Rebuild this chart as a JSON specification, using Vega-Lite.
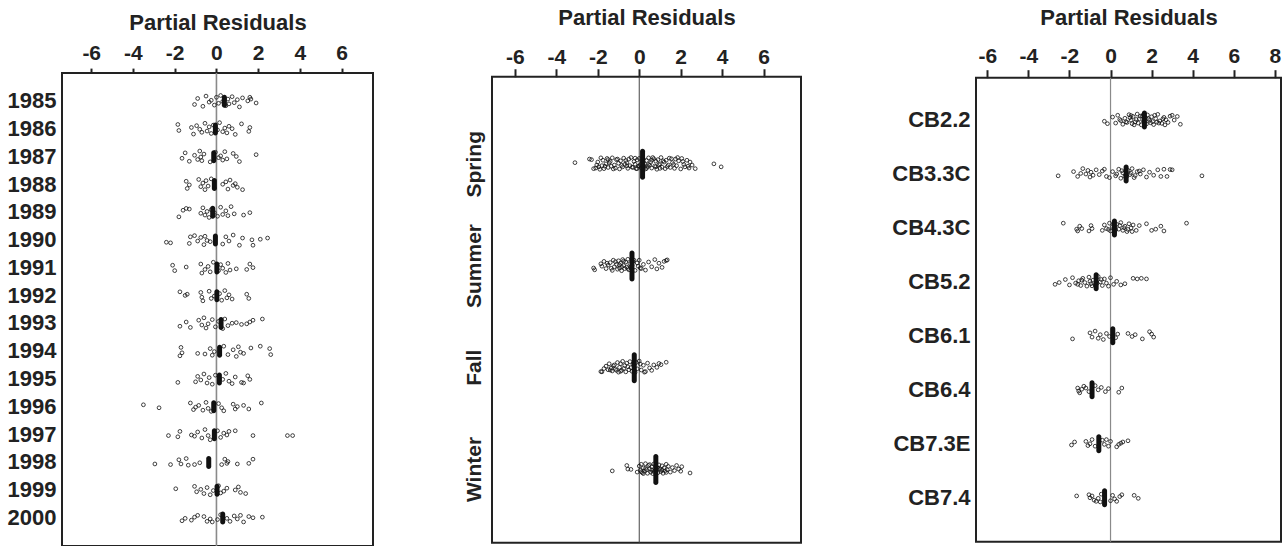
{
  "$schema": "https://vega.github.io/schema/vega-lite/v6.json",
  "padding": {"top": 5, "left": 6, "right": 2, "bottom": 0},
  "background": "white",
  "spacing": 88,
  "center": true,
  "datasets": {
    "left": [
      {"g":"1985","v":-1.05,"j":0.6},{"g":"1985","v":-0.9,"j":-0.4},{"g":"1985","v":-0.65,"j":0.9},{"g":"1985","v":-0.5,"j":-0.8},{"g":"1985","v":-0.35,"j":0.2},{"g":"1985","v":-0.25,"j":-0.1},{"g":"1985","v":-0.1,"j":0.7},{"g":"1985","v":0.0,"j":-0.6},{"g":"1985","v":0.1,"j":0.4},{"g":"1985","v":0.2,"j":-0.9},{"g":"1985","v":0.3,"j":0.1},{"g":"1985","v":0.45,"j":0.8},{"g":"1985","v":0.55,"j":-0.3},{"g":"1985","v":0.6,"j":0.5},{"g":"1985","v":0.75,"j":-0.7},{"g":"1985","v":0.85,"j":0.3},{"g":"1985","v":1.0,"j":-0.2},{"g":"1985","v":1.1,"j":1.0},{"g":"1985","v":1.25,"j":-0.5},{"g":"1985","v":1.5,"j":0.0},{"g":"1985","v":1.6,"j":-0.6},{"g":"1985","v":1.65,"j":-0.3},{"g":"1985","v":1.9,"j":0.35},
      {"g":"1986","v":-1.85,"j":-0.7},{"g":"1986","v":-1.8,"j":0.3},{"g":"1986","v":-1.2,"j":-0.2},{"g":"1986","v":-1.1,"j":0.9},{"g":"1986","v":-0.95,"j":-0.5},{"g":"1986","v":-0.8,"j":0.1},{"g":"1986","v":-0.7,"j":0.6},{"g":"1986","v":-0.55,"j":-0.9},{"g":"1986","v":-0.45,"j":0.4},{"g":"1986","v":-0.35,"j":-0.3},{"g":"1986","v":-0.25,"j":0.8},{"g":"1986","v":-0.15,"j":-0.6},{"g":"1986","v":0.05,"j":0.2},{"g":"1986","v":0.15,"j":-1.0},{"g":"1986","v":0.3,"j":0.5},{"g":"1986","v":0.4,"j":-0.1},{"g":"1986","v":0.5,"j":0.7},{"g":"1986","v":0.6,"j":-0.4},{"g":"1986","v":0.75,"j":0.0},{"g":"1986","v":0.9,"j":0.95},{"g":"1986","v":1.2,"j":-0.8},{"g":"1986","v":1.55,"j":0.45},{"g":"1986","v":1.6,"j":-0.2},
      {"g":"1987","v":-1.65,"j":0.3},{"g":"1987","v":-1.5,"j":-0.6},{"g":"1987","v":-1.3,"j":0.8},{"g":"1987","v":-1.05,"j":-0.2},{"g":"1987","v":-0.9,"j":0.5},{"g":"1987","v":-0.8,"j":-0.9},{"g":"1987","v":-0.75,"j":0.1},{"g":"1987","v":-0.7,"j":0.7},{"g":"1987","v":-0.6,"j":-0.4},{"g":"1987","v":-0.3,"j":0.9},{"g":"1987","v":-0.05,"j":-0.7},{"g":"1987","v":0.1,"j":0.2},{"g":"1987","v":0.2,"j":-0.1},{"g":"1987","v":0.3,"j":0.6},{"g":"1987","v":0.4,"j":-0.8},{"g":"1987","v":0.5,"j":0.4},{"g":"1987","v":0.8,"j":-0.5},{"g":"1987","v":0.95,"j":0.0},{"g":"1987","v":1.1,"j":0.85},{"g":"1987","v":1.9,"j":-0.3},
      {"g":"1988","v":-1.45,"j":-0.5},{"g":"1988","v":-1.4,"j":0.7},{"g":"1988","v":-1.3,"j":0.1},{"g":"1988","v":-0.85,"j":-0.8},{"g":"1988","v":-0.75,"j":0.4},{"g":"1988","v":-0.65,"j":-0.2},{"g":"1988","v":-0.55,"j":0.9},{"g":"1988","v":-0.5,"j":-0.6},{"g":"1988","v":-0.4,"j":0.3},{"g":"1988","v":-0.25,"j":-0.9},{"g":"1988","v":-0.1,"j":0.6},{"g":"1988","v":0.3,"j":0.0},{"g":"1988","v":0.45,"j":-0.4},{"g":"1988","v":0.55,"j":0.8},{"g":"1988","v":0.65,"j":-0.7},{"g":"1988","v":0.8,"j":0.2},{"g":"1988","v":0.9,"j":-0.1},{"g":"1988","v":1.0,"j":0.5},{"g":"1988","v":1.25,"j":0.9},
      {"g":"1989","v":-1.8,"j":0.8},{"g":"1989","v":-1.6,"j":-0.3},{"g":"1989","v":-1.45,"j":-0.6},{"g":"1989","v":-1.3,"j":-0.5},{"g":"1989","v":-0.75,"j":0.2},{"g":"1989","v":-0.65,"j":-0.7},{"g":"1989","v":-0.55,"j":0.5},{"g":"1989","v":-0.45,"j":-0.1},{"g":"1989","v":-0.35,"j":0.9},{"g":"1989","v":-0.25,"j":-0.4},{"g":"1989","v":-0.1,"j":0.1},{"g":"1989","v":0.05,"j":0.7},{"g":"1989","v":0.2,"j":-0.8},{"g":"1989","v":0.3,"j":0.4},{"g":"1989","v":0.45,"j":-0.2},{"g":"1989","v":0.55,"j":0.6},{"g":"1989","v":0.7,"j":-0.9},{"g":"1989","v":0.85,"j":0.3},{"g":"1989","v":1.3,"j":0.5},{"g":"1989","v":1.6,"j":0.1},
      {"g":"1990","v":-2.4,"j":0.4},{"g":"1990","v":-2.2,"j":0.5},{"g":"1990","v":-1.3,"j":0.6},{"g":"1990","v":-1.25,"j":-0.5},{"g":"1990","v":-1.05,"j":-0.7},{"g":"1990","v":-0.9,"j":0.2},{"g":"1990","v":-0.75,"j":-0.4},{"g":"1990","v":-0.6,"j":0.8},{"g":"1990","v":-0.55,"j":-0.6},{"g":"1990","v":-0.45,"j":0.1},{"g":"1990","v":-0.3,"j":0.3},{"g":"1990","v":0.3,"j":0.7},{"g":"1990","v":0.45,"j":-0.5},{"g":"1990","v":0.6,"j":0.2},{"g":"1990","v":0.8,"j":-0.8},{"g":"1990","v":1.1,"j":0.9},{"g":"1990","v":1.25,"j":-0.3},{"g":"1990","v":1.7,"j":0.0},{"g":"1990","v":1.75,"j":0.9},{"g":"1990","v":2.1,"j":-0.1},{"g":"1990","v":2.45,"j":-0.3},
      {"g":"1991","v":-2.1,"j":-0.4},{"g":"1991","v":-2.0,"j":0.5},{"g":"1991","v":-1.45,"j":-0.1},{"g":"1991","v":-0.75,"j":-0.6},{"g":"1991","v":-0.7,"j":0.9},{"g":"1991","v":-0.55,"j":0.3},{"g":"1991","v":-0.4,"j":-0.2},{"g":"1991","v":-0.3,"j":0.7},{"g":"1991","v":-0.15,"j":-0.9},{"g":"1991","v":0.1,"j":0.5},{"g":"1991","v":0.2,"j":-0.5},{"g":"1991","v":0.3,"j":0.1},{"g":"1991","v":0.45,"j":0.8},{"g":"1991","v":0.55,"j":-0.7},{"g":"1991","v":0.65,"j":0.4},{"g":"1991","v":0.95,"j":0.2},{"g":"1991","v":1.45,"j":0.3},{"g":"1991","v":1.6,"j":-0.6},{"g":"1991","v":1.75,"j":0.0},
      {"g":"1992","v":-1.75,"j":-0.6},{"g":"1992","v":-1.5,"j":0.0},{"g":"1992","v":-1.4,"j":-0.2},{"g":"1992","v":-0.75,"j":-0.5},{"g":"1992","v":-0.7,"j":0.3},{"g":"1992","v":-0.65,"j":0.9},{"g":"1992","v":-0.35,"j":-0.7},{"g":"1992","v":-0.25,"j":0.5},{"g":"1992","v":-0.1,"j":0.1},{"g":"1992","v":0.15,"j":-0.3},{"g":"1992","v":0.25,"j":0.8},{"g":"1992","v":0.4,"j":-0.8},{"g":"1992","v":0.5,"j":0.4},{"g":"1992","v":0.6,"j":-0.1},{"g":"1992","v":0.75,"j":0.6},{"g":"1992","v":1.45,"j":-0.2},{"g":"1992","v":1.55,"j":0.5},
      {"g":"1993","v":-1.75,"j":0.5},{"g":"1993","v":-1.45,"j":-0.2},{"g":"1993","v":-1.25,"j":0.7},{"g":"1993","v":-0.85,"j":-0.5},{"g":"1993","v":-0.7,"j":0.3},{"g":"1993","v":-0.6,"j":-0.9},{"g":"1993","v":-0.5,"j":0.8},{"g":"1993","v":-0.4,"j":0.1},{"g":"1993","v":-0.2,"j":-0.6},{"g":"1993","v":-0.05,"j":0.6},{"g":"1993","v":0.1,"j":-0.3},{"g":"1993","v":0.3,"j":0.9},{"g":"1993","v":0.4,"j":-0.7},{"g":"1993","v":0.55,"j":0.4},{"g":"1993","v":0.75,"j":0.0},{"g":"1993","v":0.95,"j":-0.1},{"g":"1993","v":1.2,"j":0.2},{"g":"1993","v":1.45,"j":0.1},{"g":"1993","v":1.6,"j":-0.2},{"g":"1993","v":1.75,"j":-0.5},{"g":"1993","v":2.2,"j":-0.7},
      {"g":"1994","v":-1.75,"j":0.8},{"g":"1994","v":-1.7,"j":-0.6},{"g":"1994","v":-1.65,"j":0.3},{"g":"1994","v":-0.9,"j":0.4},{"g":"1994","v":-0.55,"j":0.5},{"g":"1994","v":-0.3,"j":-0.4},{"g":"1994","v":-0.2,"j":0.7},{"g":"1994","v":-0.1,"j":0.1},{"g":"1994","v":0.35,"j":-0.8},{"g":"1994","v":0.55,"j":0.6},{"g":"1994","v":0.8,"j":-0.2},{"g":"1994","v":0.95,"j":0.9},{"g":"1994","v":1.05,"j":-0.7},{"g":"1994","v":1.15,"j":0.2},{"g":"1994","v":1.3,"j":0.4},{"g":"1994","v":1.65,"j":-0.5},{"g":"1994","v":2.1,"j":-0.8},{"g":"1994","v":2.55,"j":-0.4},{"g":"1994","v":2.6,"j":0.6},
      {"g":"1995","v":-1.85,"j":0.6},{"g":"1995","v":-1.0,"j":0.5},{"g":"1995","v":-0.9,"j":-0.4},{"g":"1995","v":-0.75,"j":0.2},{"g":"1995","v":-0.6,"j":-0.8},{"g":"1995","v":-0.45,"j":0.7},{"g":"1995","v":-0.35,"j":-0.2},{"g":"1995","v":-0.2,"j":0.9},{"g":"1995","v":-0.05,"j":-0.6},{"g":"1995","v":0.3,"j":0.1},{"g":"1995","v":0.45,"j":-0.9},{"g":"1995","v":0.6,"j":0.4},{"g":"1995","v":0.75,"j":0.8},{"g":"1995","v":0.9,"j":-0.3},{"g":"1995","v":1.2,"j":0.6},{"g":"1995","v":1.3,"j":0.7},{"g":"1995","v":1.5,"j":-0.5},{"g":"1995","v":1.6,"j":0.1},
      {"g":"1996","v":-3.5,"j":-0.3},{"g":"1996","v":-2.75,"j":0.2},{"g":"1996","v":-1.25,"j":-0.6},{"g":"1996","v":-1.1,"j":0.5},{"g":"1996","v":-1.0,"j":0.1},{"g":"1996","v":-0.85,"j":-0.2},{"g":"1996","v":-0.65,"j":0.6},{"g":"1996","v":-0.5,"j":-0.7},{"g":"1996","v":-0.4,"j":0.3},{"g":"1996","v":-0.25,"j":0.8},{"g":"1996","v":0.1,"j":-0.5},{"g":"1996","v":0.25,"j":0.2},{"g":"1996","v":0.35,"j":0.7},{"g":"1996","v":0.8,"j":-0.4},{"g":"1996","v":0.9,"j":0.4},{"g":"1996","v":1.0,"j":0.0},{"g":"1996","v":1.3,"j":-0.2},{"g":"1996","v":1.55,"j":0.4},{"g":"1996","v":2.15,"j":-0.6},
      {"g":"1997","v":-2.3,"j":0.2},{"g":"1997","v":-1.85,"j":0.4},{"g":"1997","v":-1.75,"j":-0.5},{"g":"1997","v":-1.2,"j":0.1},{"g":"1997","v":-1.05,"j":0.3},{"g":"1997","v":-0.9,"j":-0.4},{"g":"1997","v":-0.7,"j":0.6},{"g":"1997","v":-0.55,"j":-0.8},{"g":"1997","v":-0.4,"j":0.2},{"g":"1997","v":-0.3,"j":0.9},{"g":"1997","v":0.05,"j":-0.6},{"g":"1997","v":0.2,"j":0.5},{"g":"1997","v":0.35,"j":-0.2},{"g":"1997","v":0.5,"j":0.1},{"g":"1997","v":0.6,"j":-0.5},{"g":"1997","v":0.9,"j":-0.6},{"g":"1997","v":1.75,"j":0.2},{"g":"1997","v":3.4,"j":0.2},{"g":"1997","v":3.65,"j":0.2},
      {"g":"1998","v":-2.95,"j":0.3},{"g":"1998","v":-2.2,"j":0.4},{"g":"1998","v":-1.8,"j":-0.4},{"g":"1998","v":-1.7,"j":0.3},{"g":"1998","v":-1.45,"j":-0.6},{"g":"1998","v":-1.35,"j":0.5},{"g":"1998","v":-1.05,"j":0.4},{"g":"1998","v":-0.8,"j":0.1},{"g":"1998","v":0.25,"j":0.4},{"g":"1998","v":0.4,"j":-0.5},{"g":"1998","v":0.5,"j":0.2},{"g":"1998","v":0.55,"j":-0.1},{"g":"1998","v":1.0,"j":0.3},{"g":"1998","v":1.55,"j":0.2},{"g":"1998","v":1.75,"j":-0.5},
      {"g":"1999","v":-1.95,"j":-0.2},{"g":"1999","v":-1.05,"j":-0.6},{"g":"1999","v":-0.95,"j":0.3},{"g":"1999","v":-0.75,"j":-0.1},{"g":"1999","v":-0.6,"j":0.6},{"g":"1999","v":-0.45,"j":-0.4},{"g":"1999","v":-0.3,"j":0.8},{"g":"1999","v":-0.15,"j":0.1},{"g":"1999","v":0.1,"j":-0.7},{"g":"1999","v":0.2,"j":0.5},{"g":"1999","v":0.35,"j":0.2},{"g":"1999","v":0.5,"j":-0.3},{"g":"1999","v":0.9,"j":0.0},{"g":"1999","v":1.05,"j":-0.5},{"g":"1999","v":1.15,"j":0.4},{"g":"1999","v":1.4,"j":0.6},
      {"g":"2000","v":-1.65,"j":0.5},{"g":"2000","v":-1.5,"j":0.1},{"g":"2000","v":-1.2,"j":0.4},{"g":"2000","v":-1.05,"j":-0.1},{"g":"2000","v":-0.9,"j":-0.4},{"g":"2000","v":-0.6,"j":-0.2},{"g":"2000","v":-0.45,"j":0.6},{"g":"2000","v":-0.3,"j":0.2},{"g":"2000","v":-0.2,"j":0.7},{"g":"2000","v":0.05,"j":0.3},{"g":"2000","v":0.2,"j":-0.5},{"g":"2000","v":0.5,"j":0.1},{"g":"2000","v":0.65,"j":0.6},{"g":"2000","v":0.85,"j":-0.3},{"g":"2000","v":1.0,"j":0.2},{"g":"2000","v":1.15,"j":-0.4},{"g":"2000","v":1.3,"j":0.7},{"g":"2000","v":1.55,"j":-0.2},{"g":"2000","v":1.75,"j":0.0},{"g":"2000","v":2.2,"j":-0.1}
    ],
    "leftMean": [
      {"g":"1985","m":0.38},{"g":"1986","m":-0.05},{"g":"1987","m":-0.13},{"g":"1988","m":-0.1},{"g":"1989","m":-0.18},{"g":"1990","m":-0.05},{"g":"1991","m":0.02},{"g":"1992","m":0.02},{"g":"1993","m":0.22},{"g":"1994","m":0.15},{"g":"1995","m":0.14},{"g":"1996","m":-0.13},{"g":"1997","m":-0.1},{"g":"1998","m":-0.37},{"g":"1999","m":0.03},{"g":"2000","m":0.3}
    ],
    "mid": [
      {"g":"Spring","v":-3.1,"j":-0.1},{"g":"Spring","v":-2.4,"j":-0.7},{"g":"Spring","v":-2.3,"j":-0.6},{"g":"Spring","v":-2.2,"j":0.9},{"g":"Spring","v":-2.1,"j":0.8},{"g":"Spring","v":-2.0,"j":-0.2},{"g":"Spring","v":-1.95,"j":0.6},{"g":"Spring","v":-1.9,"j":1.0},{"g":"Spring","v":-1.8,"j":0.4},{"g":"Spring","v":-1.75,"j":-0.5},{"g":"Spring","v":-1.7,"j":0.9},{"g":"Spring","v":-1.6,"j":0.1},{"g":"Spring","v":-1.55,"j":-0.8},{"g":"Spring","v":-1.5,"j":0.7},{"g":"Spring","v":-1.4,"j":-0.3},{"g":"Spring","v":-1.35,"j":0.5},{"g":"Spring","v":-1.3,"j":-0.9},{"g":"Spring","v":-1.2,"j":0.3},{"g":"Spring","v":-1.15,"j":0.8},{"g":"Spring","v":-1.1,"j":-0.6},{"g":"Spring","v":-1.0,"j":0.0},{"g":"Spring","v":-0.95,"j":0.95},{"g":"Spring","v":-0.9,"j":-0.4},{"g":"Spring","v":-0.8,"j":0.6},{"g":"Spring","v":-0.75,"j":-0.85},{"g":"Spring","v":-0.7,"j":0.2},{"g":"Spring","v":-0.6,"j":-0.1},{"g":"Spring","v":-0.55,"j":0.85},{"g":"Spring","v":-0.5,"j":-0.7},{"g":"Spring","v":-0.45,"j":0.4},{"g":"Spring","v":-0.4,"j":-0.95},{"g":"Spring","v":-0.3,"j":0.7},{"g":"Spring","v":-0.25,"j":-0.3},{"g":"Spring","v":-0.2,"j":0.15},{"g":"Spring","v":-0.15,"j":0.9},{"g":"Spring","v":-0.1,"j":-0.55},{"g":"Spring","v":-0.05,"j":0.5},{"g":"Spring","v":0.0,"j":-0.8},{"g":"Spring","v":0.05,"j":0.25},{"g":"Spring","v":0.1,"j":0.75},{"g":"Spring","v":0.2,"j":-0.65},{"g":"Spring","v":0.25,"j":0.05},{"g":"Spring","v":0.3,"j":0.95},{"g":"Spring","v":0.35,"j":-0.45},{"g":"Spring","v":0.4,"j":0.55},{"g":"Spring","v":0.45,"j":-0.9},{"g":"Spring","v":0.5,"j":0.35},{"g":"Spring","v":0.55,"j":-0.15},{"g":"Spring","v":0.6,"j":0.8},{"g":"Spring","v":0.7,"j":-0.75},{"g":"Spring","v":0.75,"j":0.45},{"g":"Spring","v":0.8,"j":-0.35},{"g":"Spring","v":0.85,"j":1.0},{"g":"Spring","v":0.9,"j":-0.6},{"g":"Spring","v":1.0,"j":0.1},{"g":"Spring","v":1.05,"j":-0.95},{"g":"Spring","v":1.1,"j":0.65},{"g":"Spring","v":1.2,"j":-0.2},{"g":"Spring","v":1.25,"j":0.9},{"g":"Spring","v":1.3,"j":-0.5},{"g":"Spring","v":1.4,"j":0.3},{"g":"Spring","v":1.45,"j":-0.85},{"g":"Spring","v":1.5,"j":0.7},{"g":"Spring","v":1.6,"j":-0.1},{"g":"Spring","v":1.7,"j":0.85},{"g":"Spring","v":1.75,"j":-0.7},{"g":"Spring","v":1.8,"j":0.4},{"g":"Spring","v":1.9,"j":-0.4},{"g":"Spring","v":2.0,"j":0.95},{"g":"Spring","v":2.05,"j":-0.8},{"g":"Spring","v":2.15,"j":0.2},{"g":"Spring","v":2.2,"j":0.6},{"g":"Spring","v":2.3,"j":-0.5},{"g":"Spring","v":2.4,"j":0.8},{"g":"Spring","v":2.45,"j":-0.2},{"g":"Spring","v":2.55,"j":0.3},{"g":"Spring","v":2.7,"j":0.9},{"g":"Spring","v":3.6,"j":0.1},{"g":"Spring","v":3.95,"j":0.6},
      {"g":"Spring","v":-2.05,"j":0.3},{"g":"Spring","v":-1.85,"j":-0.9},{"g":"Spring","v":-1.65,"j":0.5},{"g":"Spring","v":-1.45,"j":-0.1},{"g":"Spring","v":-1.25,"j":0.95},{"g":"Spring","v":-1.05,"j":-0.7},{"g":"Spring","v":-0.85,"j":0.35},{"g":"Spring","v":-0.65,"j":-0.45},{"g":"Spring","v":-0.35,"j":0.65},{"g":"Spring","v":-0.1,"j":0.9},{"g":"Spring","v":0.0,"j":0.45},{"g":"Spring","v":0.15,"j":-0.25},{"g":"Spring","v":0.25,"j":0.6},{"g":"Spring","v":0.45,"j":0.2},{"g":"Spring","v":0.65,"j":-0.95},{"g":"Spring","v":0.8,"j":0.6},{"g":"Spring","v":0.95,"j":0.25},{"g":"Spring","v":1.15,"j":-0.4},{"g":"Spring","v":1.35,"j":0.55},{"g":"Spring","v":1.55,"j":-0.75},{"g":"Spring","v":1.65,"j":0.2},{"g":"Spring","v":1.85,"j":-0.95},{"g":"Spring","v":2.1,"j":-0.3},{"g":"Spring","v":2.35,"j":0.5},{"g":"Spring","v":-0.6,"j":0.45},{"g":"Spring","v":-0.2,"j":-0.85},{"g":"Spring","v":0.35,"j":0.85},{"g":"Spring","v":0.6,"j":-0.5},{"g":"Spring","v":1.0,"j":0.85},{"g":"Spring","v":-1.5,"j":-0.6},
      {"g":"Summer","v":-2.2,"j":0.5},{"g":"Summer","v":-2.15,"j":0.8},{"g":"Summer","v":-1.85,"j":-0.2},{"g":"Summer","v":-1.8,"j":0.2},{"g":"Summer","v":-1.7,"j":-0.6},{"g":"Summer","v":-1.6,"j":0.6},{"g":"Summer","v":-1.5,"j":0.0},{"g":"Summer","v":-1.4,"j":-0.4},{"g":"Summer","v":-1.3,"j":0.9},{"g":"Summer","v":-1.25,"j":-0.8},{"g":"Summer","v":-1.2,"j":0.3},{"g":"Summer","v":-1.1,"j":-0.1},{"g":"Summer","v":-1.05,"j":0.7},{"g":"Summer","v":-1.0,"j":-0.7},{"g":"Summer","v":-0.95,"j":0.5},{"g":"Summer","v":-0.9,"j":-0.3},{"g":"Summer","v":-0.85,"j":0.95},{"g":"Summer","v":-0.8,"j":-0.9},{"g":"Summer","v":-0.75,"j":0.1},{"g":"Summer","v":-0.7,"j":0.6},{"g":"Summer","v":-0.65,"j":-0.5},{"g":"Summer","v":-0.6,"j":0.35},{"g":"Summer","v":-0.55,"j":-0.95},{"g":"Summer","v":-0.5,"j":0.8},{"g":"Summer","v":-0.45,"j":-0.2},{"g":"Summer","v":-0.4,"j":0.45},{"g":"Summer","v":-0.3,"j":-0.6},{"g":"Summer","v":-0.2,"j":0.9},{"g":"Summer","v":-0.1,"j":-0.35},{"g":"Summer","v":-0.05,"j":0.2},{"g":"Summer","v":0.0,"j":-0.8},{"g":"Summer","v":0.1,"j":0.6},{"g":"Summer","v":0.2,"j":-0.1},{"g":"Summer","v":0.3,"j":0.85},{"g":"Summer","v":0.45,"j":-0.5},{"g":"Summer","v":0.6,"j":0.3},{"g":"Summer","v":0.75,"j":-0.9},{"g":"Summer","v":0.85,"j":0.65},{"g":"Summer","v":0.95,"j":-0.3},{"g":"Summer","v":1.1,"j":0.4},{"g":"Summer","v":1.2,"j":-0.6},{"g":"Summer","v":1.3,"j":-0.75},{"g":"Summer","v":1.35,"j":-0.85},
      {"g":"Summer","v":-1.35,"j":0.55},{"g":"Summer","v":-1.15,"j":-0.55},{"g":"Summer","v":-0.95,"j":0.0},{"g":"Summer","v":-0.75,"j":-0.65},{"g":"Summer","v":-0.55,"j":0.6},{"g":"Summer","v":-0.35,"j":0.05},{"g":"Summer","v":-0.25,"j":-0.8},{"g":"Summer","v":0.05,"j":0.5},{"g":"Summer","v":-1.55,"j":-0.3},{"g":"Summer","v":-0.85,"j":0.3},
      {"g":"Fall","v":-1.85,"j":0.8},{"g":"Fall","v":-1.8,"j":0.85},{"g":"Fall","v":-1.7,"j":0.3},{"g":"Fall","v":-1.6,"j":-0.1},{"g":"Fall","v":-1.5,"j":0.5},{"g":"Fall","v":-1.45,"j":-0.5},{"g":"Fall","v":-1.35,"j":0.2},{"g":"Fall","v":-1.3,"j":0.7},{"g":"Fall","v":-1.2,"j":-0.3},{"g":"Fall","v":-1.15,"j":0.4},{"g":"Fall","v":-1.05,"j":-0.7},{"g":"Fall","v":-1.0,"j":0.9},{"g":"Fall","v":-0.95,"j":0.1},{"g":"Fall","v":-0.9,"j":-0.5},{"g":"Fall","v":-0.85,"j":0.6},{"g":"Fall","v":-0.8,"j":-0.9},{"g":"Fall","v":-0.75,"j":0.3},{"g":"Fall","v":-0.7,"j":-0.2},{"g":"Fall","v":-0.65,"j":0.85},{"g":"Fall","v":-0.6,"j":-0.6},{"g":"Fall","v":-0.5,"j":0.5},{"g":"Fall","v":-0.45,"j":-0.85},{"g":"Fall","v":-0.4,"j":0.15},{"g":"Fall","v":-0.35,"j":0.75},{"g":"Fall","v":-0.3,"j":-0.4},{"g":"Fall","v":-0.2,"j":0.95},{"g":"Fall","v":-0.15,"j":-0.7},{"g":"Fall","v":-0.1,"j":0.35},{"g":"Fall","v":0.0,"j":-0.95},{"g":"Fall","v":0.1,"j":0.55},{"g":"Fall","v":0.2,"j":-0.25},{"g":"Fall","v":0.3,"j":0.8},{"g":"Fall","v":0.4,"j":-0.6},{"g":"Fall","v":0.5,"j":0.2},{"g":"Fall","v":0.6,"j":0.6},{"g":"Fall","v":0.7,"j":-0.3},{"g":"Fall","v":0.85,"j":0.1},{"g":"Fall","v":0.95,"j":-0.55},{"g":"Fall","v":1.05,"j":-0.35},{"g":"Fall","v":1.3,"j":-0.75},
      {"g":"Fall","v":-1.25,"j":-0.15},{"g":"Fall","v":-1.1,"j":0.6},{"g":"Fall","v":-0.55,"j":0.0},{"g":"Fall","v":-0.25,"j":0.45},{"g":"Fall","v":0.05,"j":-0.45},{"g":"Fall","v":0.25,"j":0.9},{"g":"Fall","v":-0.9,"j":0.75},{"g":"Fall","v":-1.4,"j":0.55},
      {"g":"Winter","v":-1.3,"j":0.4},{"g":"Winter","v":-0.6,"j":-0.5},{"g":"Winter","v":-0.55,"j":0.1},{"g":"Winter","v":-0.4,"j":0.15},{"g":"Winter","v":-0.1,"j":0.6},{"g":"Winter","v":0.0,"j":-0.4},{"g":"Winter","v":0.05,"j":0.3},{"g":"Winter","v":0.1,"j":-0.7},{"g":"Winter","v":0.15,"j":0.7},{"g":"Winter","v":0.2,"j":-0.1},{"g":"Winter","v":0.25,"j":0.45},{"g":"Winter","v":0.3,"j":-0.8},{"g":"Winter","v":0.35,"j":0.2},{"g":"Winter","v":0.4,"j":0.8},{"g":"Winter","v":0.45,"j":-0.5},{"g":"Winter","v":0.5,"j":0.05},{"g":"Winter","v":0.55,"j":0.6},{"g":"Winter","v":0.6,"j":-0.3},{"g":"Winter","v":0.65,"j":0.85},{"g":"Winter","v":0.7,"j":-0.75},{"g":"Winter","v":0.75,"j":0.3},{"g":"Winter","v":0.85,"j":-0.2},{"g":"Winter","v":0.9,"j":0.7},{"g":"Winter","v":0.95,"j":-0.6},{"g":"Winter","v":1.0,"j":0.15},{"g":"Winter","v":1.05,"j":0.5},{"g":"Winter","v":1.1,"j":-0.45},{"g":"Winter","v":1.15,"j":0.8},{"g":"Winter","v":1.2,"j":-0.1},{"g":"Winter","v":1.25,"j":0.4},{"g":"Winter","v":1.3,"j":-0.7},{"g":"Winter","v":1.35,"j":0.2},{"g":"Winter","v":1.4,"j":-0.35},{"g":"Winter","v":1.5,"j":0.6},{"g":"Winter","v":1.6,"j":-0.15},{"g":"Winter","v":1.7,"j":0.35},{"g":"Winter","v":1.8,"j":-0.5},{"g":"Winter","v":1.9,"j":0.1},{"g":"Winter","v":2.0,"j":0.45},{"g":"Winter","v":2.05,"j":-0.3},{"g":"Winter","v":2.45,"j":0.75},
      {"g":"Winter","v":0.1,"j":0.55},{"g":"Winter","v":0.3,"j":0.0},{"g":"Winter","v":0.5,"j":-0.65},{"g":"Winter","v":0.7,"j":0.5},{"g":"Winter","v":0.9,"j":-0.05},{"g":"Winter","v":1.1,"j":0.25},{"g":"Winter","v":1.3,"j":0.65},{"g":"Winter","v":0.2,"j":0.85},{"g":"Winter","v":0.6,"j":0.25},{"g":"Winter","v":0.8,"j":-0.55}
    ],
    "midMean": [
      {"g":"Spring","m":0.16},{"g":"Summer","m":-0.35},{"g":"Fall","m":-0.24},{"g":"Winter","m":0.8}
    ],
    "right": [
      {"g":"CB2.2","v":-0.3,"j":0.3},{"g":"CB2.2","v":-0.15,"j":0.7},{"g":"CB2.2","v":0.1,"j":-0.4},{"g":"CB2.2","v":0.25,"j":0.6},{"g":"CB2.2","v":0.35,"j":-0.7},{"g":"CB2.2","v":0.5,"j":0.2},{"g":"CB2.2","v":0.6,"j":0.8},{"g":"CB2.2","v":0.7,"j":-0.2},{"g":"CB2.2","v":0.8,"j":0.5},{"g":"CB2.2","v":0.9,"j":-0.8},{"g":"CB2.2","v":1.0,"j":0.1},{"g":"CB2.2","v":1.05,"j":0.7},{"g":"CB2.2","v":1.1,"j":-0.5},{"g":"CB2.2","v":1.2,"j":0.4},{"g":"CB2.2","v":1.3,"j":-0.9},{"g":"CB2.2","v":1.35,"j":0.6},{"g":"CB2.2","v":1.4,"j":-0.1},{"g":"CB2.2","v":1.5,"j":0.9},{"g":"CB2.2","v":1.55,"j":-0.6},{"g":"CB2.2","v":1.6,"j":0.3},{"g":"CB2.2","v":1.7,"j":-0.3},{"g":"CB2.2","v":1.75,"j":0.75},{"g":"CB2.2","v":1.8,"j":-0.75},{"g":"CB2.2","v":1.9,"j":0.15},{"g":"CB2.2","v":1.95,"j":0.55},{"g":"CB2.2","v":2.0,"j":-0.45},{"g":"CB2.2","v":2.1,"j":0.85},{"g":"CB2.2","v":2.2,"j":-0.15},{"g":"CB2.2","v":2.25,"j":0.45},{"g":"CB2.2","v":2.3,"j":-0.85},{"g":"CB2.2","v":2.4,"j":0.25},{"g":"CB2.2","v":2.5,"j":0.65},{"g":"CB2.2","v":2.6,"j":-0.35},{"g":"CB2.2","v":2.7,"j":0.05},{"g":"CB2.2","v":2.8,"j":0.5},{"g":"CB2.2","v":2.9,"j":-0.55},{"g":"CB2.2","v":3.0,"j":-0.7},{"g":"CB2.2","v":3.1,"j":0.1},{"g":"CB2.2","v":3.25,"j":-0.5},{"g":"CB2.2","v":3.4,"j":0.8},
      {"g":"CB2.2","v":0.45,"j":0.0},{"g":"CB2.2","v":0.75,"j":0.4},{"g":"CB2.2","v":0.95,"j":-0.3},{"g":"CB2.2","v":1.15,"j":0.9},{"g":"CB2.2","v":1.25,"j":0.0},{"g":"CB2.2","v":1.45,"j":-0.55},{"g":"CB2.2","v":1.65,"j":0.5},{"g":"CB2.2","v":1.85,"j":-0.1},{"g":"CB2.2","v":2.05,"j":0.35},{"g":"CB2.2","v":2.15,"j":-0.7},{"g":"CB2.2","v":2.35,"j":0.6},{"g":"CB2.2","v":2.55,"j":-0.1},{"g":"CB2.2","v":2.65,"j":0.9},{"g":"CB2.2","v":1.0,"j":-0.65},{"g":"CB2.2","v":1.6,"j":-0.8},
      {"g":"CB3.3C","v":-2.55,"j":0.4},{"g":"CB3.3C","v":-1.8,"j":-0.3},{"g":"CB3.3C","v":-1.6,"j":0.5},{"g":"CB3.3C","v":-1.45,"j":0.0},{"g":"CB3.3C","v":-1.35,"j":-0.8},{"g":"CB3.3C","v":-1.2,"j":0.1},{"g":"CB3.3C","v":-1.1,"j":-0.5},{"g":"CB3.3C","v":-0.95,"j":-0.2},{"g":"CB3.3C","v":-0.85,"j":0.3},{"g":"CB3.3C","v":-0.7,"j":-0.6},{"g":"CB3.3C","v":-0.55,"j":0.2},{"g":"CB3.3C","v":-0.4,"j":-0.4},{"g":"CB3.3C","v":-0.2,"j":0.5},{"g":"CB3.3C","v":-0.05,"j":0.7},{"g":"CB3.3C","v":0.1,"j":-0.3},{"g":"CB3.3C","v":0.25,"j":0.4},{"g":"CB3.3C","v":0.4,"j":-0.7},{"g":"CB3.3C","v":0.5,"j":0.8},{"g":"CB3.3C","v":0.6,"j":-0.1},{"g":"CB3.3C","v":0.7,"j":0.5},{"g":"CB3.3C","v":0.85,"j":-0.5},{"g":"CB3.3C","v":0.95,"j":0.2},{"g":"CB3.3C","v":1.05,"j":-0.8},{"g":"CB3.3C","v":1.15,"j":0.7},{"g":"CB3.3C","v":1.3,"j":-0.3},{"g":"CB3.3C","v":1.45,"j":0.1},{"g":"CB3.3C","v":1.6,"j":-0.6},{"g":"CB3.3C","v":1.75,"j":0.6},{"g":"CB3.3C","v":1.9,"j":-0.2},{"g":"CB3.3C","v":2.1,"j":0.3},{"g":"CB3.3C","v":2.3,"j":-0.6},{"g":"CB3.3C","v":2.45,"j":0.5},{"g":"CB3.3C","v":2.6,"j":-0.7},{"g":"CB3.3C","v":2.75,"j":0.5},{"g":"CB3.3C","v":2.9,"j":-0.65},{"g":"CB3.3C","v":3.0,"j":-0.6},{"g":"CB3.3C","v":4.45,"j":0.4},
      {"g":"CB3.3C","v":0.3,"j":0.1},{"g":"CB3.3C","v":0.55,"j":-0.45},{"g":"CB3.3C","v":0.8,"j":0.45},{"g":"CB3.3C","v":1.0,"j":-0.05},{"g":"CB3.3C","v":1.2,"j":0.35},{"g":"CB3.3C","v":1.4,"j":-0.4},{"g":"CB3.3C","v":-0.3,"j":-0.7},{"g":"CB3.3C","v":-1.0,"j":0.6},
      {"g":"CB4.3C","v":-2.3,"j":-0.7},{"g":"CB4.3C","v":-1.65,"j":0.3},{"g":"CB4.3C","v":-1.6,"j":0.6},{"g":"CB4.3C","v":-1.5,"j":-0.2},{"g":"CB4.3C","v":-1.4,"j":0.2},{"g":"CB4.3C","v":-1.05,"j":0.6},{"g":"CB4.3C","v":-0.95,"j":-0.3},{"g":"CB4.3C","v":-0.9,"j":0.2},{"g":"CB4.3C","v":-0.4,"j":0.5},{"g":"CB4.3C","v":-0.3,"j":-0.4},{"g":"CB4.3C","v":-0.2,"j":0.2},{"g":"CB4.3C","v":-0.05,"j":-0.7},{"g":"CB4.3C","v":0.0,"j":0.6},{"g":"CB4.3C","v":0.1,"j":-0.1},{"g":"CB4.3C","v":0.2,"j":0.8},{"g":"CB4.3C","v":0.3,"j":-0.5},{"g":"CB4.3C","v":0.4,"j":0.3},{"g":"CB4.3C","v":0.5,"j":-0.8},{"g":"CB4.3C","v":0.6,"j":0.5},{"g":"CB4.3C","v":0.7,"j":-0.2},{"g":"CB4.3C","v":0.8,"j":0.7},{"g":"CB4.3C","v":0.9,"j":-0.6},{"g":"CB4.3C","v":1.0,"j":0.1},{"g":"CB4.3C","v":1.1,"j":-0.4},{"g":"CB4.3C","v":1.25,"j":0.5},{"g":"CB4.3C","v":1.4,"j":-0.3},{"g":"CB4.3C","v":1.75,"j":-0.6},{"g":"CB4.3C","v":2.0,"j":0.5},{"g":"CB4.3C","v":2.2,"j":0.3},{"g":"CB4.3C","v":2.45,"j":-0.2},{"g":"CB4.3C","v":2.6,"j":0.6},{"g":"CB4.3C","v":3.7,"j":-0.7},
      {"g":"CB4.3C","v":0.25,"j":0.4},{"g":"CB4.3C","v":0.45,"j":-0.3},{"g":"CB4.3C","v":0.65,"j":0.05},{"g":"CB4.3C","v":0.85,"j":0.35},{"g":"CB4.3C","v":1.05,"j":0.7},{"g":"CB4.3C","v":0.15,"j":-0.6},{"g":"CB4.3C","v":-0.1,"j":0.35},
      {"g":"CB5.2","v":-2.7,"j":0.5},{"g":"CB5.2","v":-2.5,"j":0.2},{"g":"CB5.2","v":-2.2,"j":-0.3},{"g":"CB5.2","v":-2.0,"j":0.6},{"g":"CB5.2","v":-1.85,"j":-0.6},{"g":"CB5.2","v":-1.7,"j":0.3},{"g":"CB5.2","v":-1.55,"j":-0.1},{"g":"CB5.2","v":-1.45,"j":0.7},{"g":"CB5.2","v":-1.35,"j":-0.5},{"g":"CB5.2","v":-1.25,"j":0.2},{"g":"CB5.2","v":-1.15,"j":0.8},{"g":"CB5.2","v":-1.05,"j":-0.7},{"g":"CB5.2","v":-0.95,"j":0.4},{"g":"CB5.2","v":-0.85,"j":-0.2},{"g":"CB5.2","v":-0.75,"j":0.6},{"g":"CB5.2","v":-0.6,"j":-0.8},{"g":"CB5.2","v":-0.5,"j":0.1},{"g":"CB5.2","v":-0.4,"j":0.7},{"g":"CB5.2","v":-0.3,"j":-0.4},{"g":"CB5.2","v":-0.2,"j":0.3},{"g":"CB5.2","v":-0.1,"j":0.8},{"g":"CB5.2","v":0.0,"j":-0.6},{"g":"CB5.2","v":0.15,"j":0.5},{"g":"CB5.2","v":0.3,"j":0.0},{"g":"CB5.2","v":0.5,"j":0.6},{"g":"CB5.2","v":0.7,"j":0.4},{"g":"CB5.2","v":1.1,"j":-0.5},{"g":"CB5.2","v":1.3,"j":-0.4},{"g":"CB5.2","v":1.5,"j":-0.5},{"g":"CB5.2","v":1.75,"j":-0.4},
      {"g":"CB5.2","v":-1.6,"j":0.5},{"g":"CB5.2","v":-1.0,"j":0.0},{"g":"CB5.2","v":-0.65,"j":0.3},{"g":"CB5.2","v":-0.45,"j":-0.3},{"g":"CB5.2","v":-1.4,"j":-0.2},{"g":"CB5.2","v":-0.9,"j":0.75},
      {"g":"CB6.1","v":-1.85,"j":0.6},{"g":"CB6.1","v":-1.0,"j":-0.4},{"g":"CB6.1","v":-0.9,"j":0.3},{"g":"CB6.1","v":-0.75,"j":-0.7},{"g":"CB6.1","v":-0.6,"j":0.5},{"g":"CB6.1","v":-0.5,"j":-0.1},{"g":"CB6.1","v":-0.35,"j":0.7},{"g":"CB6.1","v":-0.2,"j":-0.3},{"g":"CB6.1","v":-0.05,"j":0.2},{"g":"CB6.1","v":0.25,"j":0.4},{"g":"CB6.1","v":0.35,"j":-0.2},{"g":"CB6.1","v":0.85,"j":-0.3},{"g":"CB6.1","v":1.05,"j":0.2},{"g":"CB6.1","v":1.2,"j":-0.1},{"g":"CB6.1","v":1.55,"j":0.6},{"g":"CB6.1","v":1.9,"j":-0.6},{"g":"CB6.1","v":2.0,"j":-0.2},{"g":"CB6.1","v":2.1,"j":0.3},
      {"g":"CB6.4","v":-1.6,"j":-0.2},{"g":"CB6.4","v":-1.55,"j":0.3},{"g":"CB6.4","v":-1.5,"j":0.6},{"g":"CB6.4","v":-1.4,"j":0.0},{"g":"CB6.4","v":-1.3,"j":-0.5},{"g":"CB6.4","v":-1.2,"j":-0.2},{"g":"CB6.4","v":-1.05,"j":0.4},{"g":"CB6.4","v":-0.75,"j":-0.6},{"g":"CB6.4","v":-0.6,"j":0.1},{"g":"CB6.4","v":-0.45,"j":-0.3},{"g":"CB6.4","v":-0.25,"j":0.4},{"g":"CB6.4","v":-0.1,"j":-0.1},{"g":"CB6.4","v":0.4,"j":0.5},{"g":"CB6.4","v":0.55,"j":-0.2},
      {"g":"CB7.3E","v":-1.9,"j":0.3},{"g":"CB7.3E","v":-1.75,"j":-0.2},{"g":"CB7.3E","v":-1.2,"j":-0.3},{"g":"CB7.3E","v":-1.1,"j":0.4},{"g":"CB7.3E","v":-1.0,"j":0.1},{"g":"CB7.3E","v":-0.9,"j":-0.6},{"g":"CB7.3E","v":-0.75,"j":0.5},{"g":"CB7.3E","v":-0.4,"j":-0.5},{"g":"CB7.3E","v":-0.3,"j":0.2},{"g":"CB7.3E","v":-0.2,"j":-0.6},{"g":"CB7.3E","v":-0.1,"j":0.5},{"g":"CB7.3E","v":0.0,"j":-0.3},{"g":"CB7.3E","v":0.3,"j":0.6},{"g":"CB7.3E","v":0.4,"j":0.2},{"g":"CB7.3E","v":0.5,"j":0.0},{"g":"CB7.3E","v":0.6,"j":-0.2},{"g":"CB7.3E","v":0.85,"j":-0.4},
      {"g":"CB7.4","v":-1.65,"j":-0.2},{"g":"CB7.4","v":-1.05,"j":-0.4},{"g":"CB7.4","v":-1.0,"j":0.1},{"g":"CB7.4","v":-0.9,"j":-0.2},{"g":"CB7.4","v":-0.8,"j":0.5},{"g":"CB7.4","v":-0.7,"j":0.7},{"g":"CB7.4","v":-0.6,"j":0.2},{"g":"CB7.4","v":-0.5,"j":0.8},{"g":"CB7.4","v":-0.45,"j":-0.5},{"g":"CB7.4","v":0.0,"j":0.6},{"g":"CB7.4","v":0.1,"j":-0.3},{"g":"CB7.4","v":0.2,"j":0.3},{"g":"CB7.4","v":0.3,"j":0.7},{"g":"CB7.4","v":0.45,"j":-0.1},{"g":"CB7.4","v":0.55,"j":-0.4},{"g":"CB7.4","v":1.15,"j":-0.3},{"g":"CB7.4","v":1.35,"j":0.2}
    ],
    "rightMean": [
      {"g":"CB2.2","m":1.65},{"g":"CB3.3C","m":0.76},{"g":"CB4.3C","m":0.19},{"g":"CB5.2","m":-0.7},{"g":"CB6.1","m":0.11},{"g":"CB6.4","m":-0.9},{"g":"CB7.3E","m":-0.57},{"g":"CB7.4","m":-0.29}
    ],
    "zero": [{"z": 0}]
  },
  "hconcat": [
    {
      "width": 311,
      "height": 473,
      "layer": [
        {
          "data": {"name": "zero"},
          "mark": {"type": "rule", "color": "#8a8a8a", "strokeWidth": 1.6},
          "encoding": {"x": {"field": "z", "type": "quantitative", "title": "Partial Residuals"}}
        },
        {
          "data": {"name": "left"},
          "mark": {"type": "point", "shape": "circle", "filled": false, "size": 14, "stroke": "#111", "strokeWidth": 0.8, "opacity": 1},
          "encoding": {
            "x": {"field": "v", "type": "quantitative", "title": "Partial Residuals",
                  "scale": {"domain": [-7.4, 7.5], "nice": false, "zero": false},
                  "axis": {"orient": "top", "values": [-6,-4,-2,0,2,4,6], "tickSize": 5, "labelPadding": 8.5, "titlePadding": 8.4}},
            "y": {"field": "g", "type": "nominal", "title": null,
                  "scale": {"type": "band", "paddingInner": 0.98, "paddingOuter": 1.0},
                  "axis": {"labelPadding": 6}},
            "yOffset": {"field": "j", "type": "quantitative", "scale": {"domain": [-1, 1], "range": [-6, 6]}}
          }
        },
        {
          "data": {"name": "leftMean"},
          "mark": {"type": "tick", "orient": "vertical", "color": "#111", "thickness": 5, "size": 13, "cornerRadius": 2.5, "opacity": 1},
          "encoding": {
            "x": {"field": "m", "type": "quantitative", "title": "Partial Residuals"},
            "y": {"field": "g", "type": "nominal", "title": null}
          }
        }
      ]
    },
    {
      "width": 309,
      "height": 466,
      "layer": [
        {
          "data": {"name": "zero"},
          "mark": {"type": "rule", "color": "#444", "strokeWidth": 1},
          "encoding": {"x": {"field": "z", "type": "quantitative", "title": "Partial Residuals"}}
        },
        {
          "data": {"name": "mid"},
          "mark": {"type": "point", "shape": "circle", "filled": false, "size": 14, "stroke": "#111", "strokeWidth": 0.8, "opacity": 1},
          "encoding": {
            "x": {"field": "v", "type": "quantitative", "title": "Partial Residuals",
                  "scale": {"domain": [-7.1, 7.8], "nice": false, "zero": false},
                  "axis": {"orient": "top", "values": [-6,-4,-2,0,2,4,6], "tickSize": 8, "labelPadding": 5.5, "titlePadding": 16.4}},
            "y": {"field": "g", "type": "nominal", "title": null, "sort": ["Spring","Summer","Fall","Winter"],
                  "scale": {"type": "band", "paddingInner": 0.98, "paddingOuter": 0.78, "align": 0.545},
                  "axis": {"labelAngle": -90, "labelPadding": 8, "labelFontSize": 21}},
            "yOffset": {"field": "j", "type": "quantitative", "scale": {"domain": [-1, 1], "range": [-17, 17]}}
          }
        },
        {
          "data": {"name": "midMean"},
          "mark": {"type": "tick", "orient": "vertical", "color": "#111", "thickness": 5, "size": 31, "cornerRadius": 2.5, "opacity": 1},
          "encoding": {
            "x": {"field": "m", "type": "quantitative", "title": "Partial Residuals"},
            "y": {"field": "g", "type": "nominal", "title": null, "sort": ["Spring","Summer","Fall","Winter"]}
          }
        }
      ]
    },
    {
      "width": 305,
      "height": 464,
      "layer": [
        {
          "data": {"name": "zero"},
          "mark": {"type": "rule", "color": "#8a8a8a", "strokeWidth": 1.2},
          "encoding": {"x": {"field": "z", "type": "quantitative", "title": "Partial Residuals"}}
        },
        {
          "data": {"name": "right"},
          "mark": {"type": "point", "shape": "circle", "filled": false, "size": 14, "stroke": "#111", "strokeWidth": 0.8, "opacity": 1},
          "encoding": {
            "x": {"field": "v", "type": "quantitative", "title": "Partial Residuals",
                  "scale": {"domain": [-6.55, 8.3], "nice": false, "zero": false},
                  "axis": {"orient": "top", "values": [-6,-4,-2,0,2,4,6,8], "tickSize": 8, "labelPadding": 7, "titlePadding": 15.9}},
            "y": {"field": "g", "type": "nominal", "title": null,
                  "scale": {"type": "band", "paddingInner": 0.98, "paddingOuter": 0.79, "align": 0.49},
                  "axis": {"labelPadding": 6}},
            "yOffset": {"field": "j", "type": "quantitative", "scale": {"domain": [-1, 1], "range": [-10, 10]}}
          }
        },
        {
          "data": {"name": "rightMean"},
          "mark": {"type": "tick", "orient": "vertical", "color": "#111", "thickness": 5, "size": 19, "cornerRadius": 2.5, "opacity": 1},
          "encoding": {
            "x": {"field": "m", "type": "quantitative", "title": "Partial Residuals"},
            "y": {"field": "g", "type": "nominal", "title": null}
          }
        }
      ]
    }
  ],
  "config": {
    "view": {"stroke": "#222", "strokeWidth": 2},
    "axis": {
      "grid": false,
      "labelFont": "Liberation Sans",
      "titleFont": "Liberation Sans",
      "labelColor": "#222",
      "titleColor": "#222",
      "labelFontWeight": "bold",
      "titleFontWeight": "bold"
    },
    "axisX": {
      "domain": false,
      "ticks": true,
      "tickWidth": 2,
      "tickColor": "#222",
      "labelFontSize": 21,
      "titleFontSize": 22,
      "labelExpr": "toString(datum.value)",
      "labelBaseline": "alphabetic",
      "labelFlush": false,
      "labelOverlap": false
    },
    "axisY": {
      "domain": false,
      "ticks": false,
      "labelFontSize": 22
    }
  }
}
